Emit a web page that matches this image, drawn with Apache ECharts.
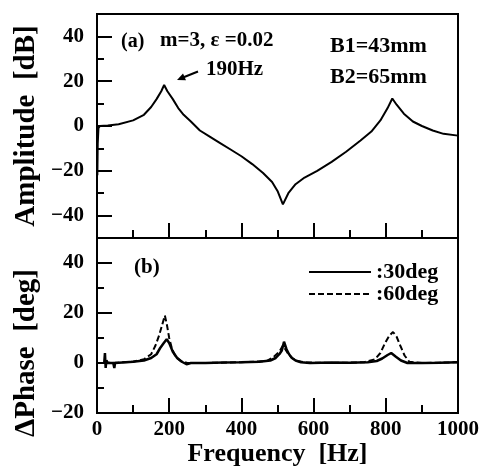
<!DOCTYPE html>
<html>
<head>
<meta charset="utf-8">
<script src="https://cdn.jsdelivr.net/npm/echarts@6/dist/echarts.min.js"></script>
<style>
  body { margin: 0; background: #fff; }
  #main { width: 493px; height: 471px; }
</style>
</head>
<body>
<div id="main"></div>
<script>
// (a) amplitude curve
const ampFreq = [1, 2, 4, 8, 30, 60, 100, 130, 150, 165, 178, 186, 195, 210, 225, 240, 260, 285, 310, 340, 370, 400, 430, 460, 485, 500, 515, 530, 550, 575, 610, 650, 690, 730, 760, 785, 805, 818, 830, 850, 875, 900, 930, 960, 1000]
const ampDb = [-22, -8, -1, 0, 0.2, 0.8, 2.5, 5, 8.5, 12, 15.5, 18.3, 15.5, 12, 8, 5, 2, -2, -4.5, -7.5, -10.5, -13.5, -17, -21, -25, -29, -35, -30, -26, -23, -20, -16, -11.5, -6.5, -2.5, 2.5, 8, 12.3, 9.5, 5.5, 2, 0, -2, -3.5, -4.3]

// (b) phase difference, 30deg (solid) and 60deg (dashed)
const p30Freq = [20, 22, 24, 26, 30, 45, 48, 50, 55, 80, 100, 130, 150, 165, 175, 185, 193, 200, 210, 222, 235, 248, 260, 300, 350, 400, 450, 480, 495, 505, 512, 518, 521, 525, 532, 540, 550, 565, 590, 650, 700, 750, 775, 790, 805, 815, 828, 842, 860, 900, 950, 1000]
const p30 = [0, 4, -2, 1, 0, 0, -2, 0, 0, 0.3, 0.5, 1, 2, 3.5, 6, 8, 9.5, 8, 4.5, 2, 0.5, -0.5, 0, 0, 0.2, 0.3, 0.5, 1, 2, 3.5, 5, 8.5, 9, 5.5, 3.5, 2, 1, 0.3, 0, 0.2, 0.1, 0.3, 0.8, 1.8, 3.2, 4, 2.5, 1, 0, 0, 0.1, 0.3]
const p60Freq = [20, 60, 100, 130, 150, 162, 172, 180, 188, 194, 200, 208, 218, 232, 250, 300, 400, 470, 490, 505, 515, 520, 528, 540, 555, 580, 650, 740, 770, 785, 798, 810, 820, 830, 840, 852, 865, 900, 1000]
const p60 = [0, 0.2, 0.5, 1.5, 3.5, 7, 11, 15, 19, 15, 10, 5.5, 2.5, 0.8, 0, 0, 0.3, 0.8, 2.5, 4.5, 7, 7.5, 4, 2, 0.8, 0.2, 0, 0.3, 1.5, 4, 8, 11, 12.4, 10.5, 7, 3, 0.5, 0, 0.3]

const ampLabels = [-40, -20, 0, 20, 40]
const phaseLabels = [-20, 0, 20, 40]

const FONT = 'Liberation Serif'
const pairs = (xs, ys) => xs.map((x, i) => [x, ys[i]])
const minus = (v) => String(v).replace('-', '\u2212')

let myChart = echarts.init(document.getElementById('main'))

const tickLabel = { color: '#000', fontFamily: FONT, fontWeight: 'bold', fontSize: 21 }
const blackLine = { show: true, onZero: false, lineStyle: { color: '#000', width: 2 } }
const tickLine = { color: '#000', width: 2 }

function xAxisFor (gridIndex, withLabels) {
  return {
    type: 'value',
    gridIndex: gridIndex,
    min: 0,
    max: 1000,
    interval: 200,
    axisLine: blackLine,
    axisTick: { show: true, inside: true, length: 15, lineStyle: tickLine },
    minorTick: { show: true, splitNumber: 2, length: 8, lineStyle: tickLine },
    splitLine: { show: false },
    axisLabel: withLabels ? Object.assign({ margin: 6, formatter: (v) => String(v) }, tickLabel) : { show: false },
    name: withLabels ? 'Frequency  [Hz]' : '',
    nameLocation: 'middle',
    nameGap: 27,
    nameTextStyle: { color: '#000', fontFamily: FONT, fontWeight: 'bold', fontSize: 26 }
  }
}

// hidden x axis for the helper grids
function hiddenX (gridIndex) {
  return {
    type: 'value',
    gridIndex: gridIndex,
    min: 0,
    max: 1000,
    axisLine: { show: false },
    axisTick: { show: false },
    axisLabel: { show: false },
    splitLine: { show: false }
  }
}

function yAxisFor (gridIndex, min, max, labels) {
  return {
    type: 'value',
    gridIndex: gridIndex,
    min: min,
    max: max,
    interval: 10,
    axisLine: blackLine,
    axisTick: { show: true, inside: true, length: 7, lineStyle: tickLine },
    splitLine: { show: false },
    axisLabel: Object.assign({
      margin: 13,
      formatter: (v) => labels.indexOf(v) >= 0 ? minus(v) : ''
    }, tickLabel)
  }
}

// long ticks every 20, drawn on a helper grid covering the same pixels
function longTicks (gridIndex, min, max) {
  return {
    type: 'value',
    gridIndex: gridIndex,
    position: 'left',
    min: min,
    max: max,
    interval: 20,
    axisLine: blackLine,
    axisLabel: { show: false },
    splitLine: { show: false },
    axisTick: { show: true, inside: true, length: 15, lineStyle: tickLine }
  }
}

const textStyle = (size) => ({ fill: '#000', font: 'bold ' + size + 'px "' + FONT + '"', verticalAlign: 'middle', align: 'left' })

myChart.setOption({
  animation: false,
  backgroundColor: '#fff',
  grid: [
    { left: 97, top: 14, width: 361, height: 224, show: true, borderColor: '#000', borderWidth: 2 },
    { left: 97, top: 238, width: 361, height: 175, show: true, borderColor: '#000', borderWidth: 2 },
    // -40..40 dB of grid 0 (2.24 px per dB)
    { left: 97, top: 36.4, width: 361, height: 179.2 },
    // 0..40 deg of grid 1 (2.5 px per deg)
    { left: 97, top: 263, width: 361, height: 100 }
  ],
  xAxis: [xAxisFor(0, false), xAxisFor(1, true), hiddenX(2), hiddenX(3)],
  yAxis: [
    yAxisFor(0, -50, 50, ampLabels),
    yAxisFor(1, -20, 50, phaseLabels),
    longTicks(2, -40, 40),
    longTicks(3, 0, 40)
  ],
  legend: {
    orient: 'vertical',
    left: 308,
    top: 261,
    itemWidth: 62,
    itemHeight: 12,
    itemGap: 0,
    padding: 0,
    itemStyle: { opacity: 0 },
    data: [':30deg', ':60deg'],
    textStyle: { color: '#000', fontFamily: FONT, fontWeight: 'bold', fontSize: 22 }
  },
  series: [
    {
      name: 'amplitude',
      type: 'line',
      xAxisIndex: 0,
      yAxisIndex: 0,
      symbol: 'none',
      lineStyle: { color: '#000', width: 2 },
      data: pairs(ampFreq, ampDb)
    },
    {
      name: ':60deg',
      type: 'line',
      xAxisIndex: 1,
      yAxisIndex: 1,
      symbol: 'none',
      itemStyle: { color: '#000' },
      lineStyle: { color: '#000', width: 2, type: [6, 3] },
      data: pairs(p60Freq, p60)
    },
    {
      name: ':30deg',
      type: 'line',
      xAxisIndex: 1,
      yAxisIndex: 1,
      symbol: 'none',
      itemStyle: { color: '#000' },
      lineStyle: { color: '#000', width: 2.5 },
      data: pairs(p30Freq, p30)
    }
  ],
  graphic: [
    { type: 'text', x: 27, y: 126, rotation: Math.PI / 2, style: Object.assign(textStyle(29), { text: 'Amplitude  [dB]', align: 'center' }) },
    { type: 'text', x: 27, y: 353, rotation: Math.PI / 2, style: Object.assign(textStyle(29), { text: '\u0394Phase  [deg]', align: 'center' }) },
    { type: 'text', x: 121, y: 42, style: Object.assign(textStyle(20), { text: '(a)' }) },
    { type: 'text', x: 160, y: 41, style: Object.assign(textStyle(21), { text: 'm=3, \u03b5 =0.02' }) },
    { type: 'text', x: 206, y: 70, style: Object.assign(textStyle(21), { text: '190Hz' }) },
    { type: 'text', x: 330, y: 46, style: Object.assign(textStyle(22), { text: 'B1=43mm' }) },
    { type: 'text', x: 330, y: 77, style: Object.assign(textStyle(22), { text: 'B2=65mm' }) },
    { type: 'text', x: 134, y: 268, style: Object.assign(textStyle(21), { text: '(b)' }) },
    // arrow pointing at the 190Hz peak
    { type: 'line', shape: { x1: 198, y1: 71.5, x2: 183, y2: 77.5 }, style: { stroke: '#000', lineWidth: 2 } },
    { type: 'polygon', shape: { points: [[177, 80], [186, 80.3], [183, 73.5]] }, style: { fill: '#000' } }
  ]
})
</script>
</body>
</html>
